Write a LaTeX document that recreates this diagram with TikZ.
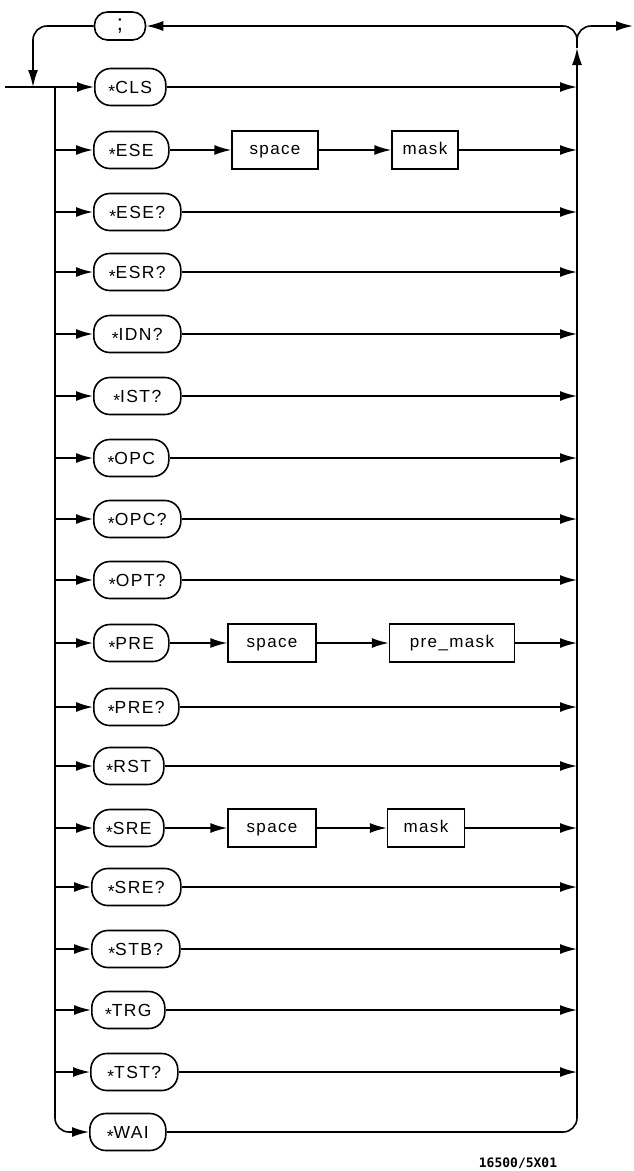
\documentclass[tikz,border=0pt]{standalone}
\usepackage{fontspec}
\setmainfont{Liberation Sans}[LetterSpace=8]
\newfontfamily\lblfont{DejaVu Sans Mono}
\usetikzlibrary{arrows.meta}
\newcommand\stR{\raisebox{-0.24em}{*}}
\begin{document}
\begin{tikzpicture}[x=1pt,y=-1pt,
  ln/.style={line width=1.6pt},
  arr/.style={-{Latex[length=17pt,width=10pt]}},
  cmd/.style={draw, line width=1.6pt, rounded corners=16pt, minimum height=37pt,
    inner sep=0pt, anchor=west, text height=13pt, text depth=0pt,
    font=\fontsize{17.5}{20}\selectfont},
  pbox/.style={draw, line width=1.4pt, minimum height=38pt, inner sep=0pt,
    text height=9.5pt, text depth=0pt, font=\fontsize{17}{20}\selectfont},
  shortc/.style={cmd, minimum width=72pt},
  longc/.style={cmd, minimum width=87pt}]
\useasboundingbox (0,0) rectangle (633,1171);

% coordinates
\coordinate (start) at (5,87);
\coordinate (busTop) at (55,87);
\coordinate (loopL) at (33,87);
\coordinate (rTop) at (577,40);
\coordinate (upTip) at (577,48);
\coordinate (exit) at (633,26);

% semicolon
\node[draw, line width=1.6pt, rounded corners=13pt, minimum height=28pt, minimum width=51pt,
  inner sep=0pt, font=\fontsize{22}{22}\selectfont] (semi) at (120,26) {;};

% commands
\node[shortc, minimum width=71pt] (cls) at (94,87) {\stR CLS};
\node[shortc, minimum width=75pt] (ese) at (93,150) {\stR ESE};
\node[longc] (eseq) at (93,212) {\stR ESE?};
\node[longc] (esrq) at (93,272) {\stR ESR?};
\node[longc] (idnq) at (93,334) {\stR IDN?};
\node[longc] (istq) at (93,396) {\stR IST?};
\node[shortc, minimum width=75pt] (opc) at (93,458) {\stR OPC};
\node[longc] (opcq) at (93,519) {\stR OPC?};
\node[longc] (optq) at (93,580) {\stR OPT?};
\node[shortc, minimum width=75pt] (pre) at (93,643) {\stR PRE};
\node[longc, minimum width=85pt] (preq) at (93,707) {\stR PRE?};
\node[shortc, minimum width=70pt] (rst) at (93,766) {\stR RST};
\node[shortc, minimum width=70pt] (sre) at (93,828) {\stR SRE};
\node[longc, minimum width=89pt] (sreq) at (91,887) {\stR SRE?};
\node[longc, minimum width=88pt] (stbq) at (91,949) {\stR STB?};
\node[shortc, minimum width=73pt] (trg) at (91,1010) {\stR TRG};
\node[longc, minimum width=87pt] (tstq) at (90,1072) {\stR TST?};
\node[shortc, minimum width=76pt] (wai) at (89,1132) {\stR WAI};

% parameter boxes
\node[pbox, minimum width=86pt] (esesp) at (275,150) {space};
\node[pbox, minimum width=66pt] (esemk) at (425,150) {mask};
\node[pbox, minimum width=88pt] (presp) at (272,643) {space};
\node[pbox, minimum width=125pt] (premk) at (452,643) {pre\_mask};
\node[pbox, minimum width=88pt] (sresp) at (272,828) {space};
\node[pbox, minimum width=77pt] (sremk) at (426,828) {mask};

% label
\node[font=\lblfont\bfseries\fontsize{13}{14}\selectfont] (lbl) at (518,1163) {16500/5X01};

% entry line and loop back
\draw[ln,arr] (start) -- (cls);
\draw[ln,arr,rounded corners=14pt] (semi.west) -| (loopL);
\draw[ln,arr,rounded corners=14pt] (rTop) |- (semi.east);
\draw[ln,arr,rounded corners=14pt] (rTop) |- (exit);

% left bus
\draw[ln,arr,rounded corners=14pt] (busTop) |- (wai.west);
\foreach \n in {ese,eseq,esrq,idnq,istq,opc,opcq,optq,pre,preq,rst,sre,sreq,stbq,trg,tstq}
  \draw[ln,arr] (busTop |- \n.west) -- (\n.west);

% parameter chains
\draw[ln,arr] (ese.east) -- (esesp.west);
\draw[ln,arr] (esesp.east) -- (esemk.west);
\draw[ln,arr] (pre.east) -- (presp.west);
\draw[ln,arr] (presp.east) -- (premk.west);
\draw[ln,arr] (sre.east) -- (sresp.west);
\draw[ln,arr] (sresp.east) -- (sremk.west);

% right side
\foreach \n in {cls,esemk,eseq,esrq,idnq,istq,opc,opcq,optq,premk,preq,rst,sremk,sreq,stbq,trg,tstq}
  \draw[ln,arr] (\n.east) -- (\n.east -| rTop);
\draw[ln,arr,rounded corners=14pt] (wai.east) -| (upTip);
\draw[ln] (upTip) -- (rTop);
\end{tikzpicture}
\end{document}
